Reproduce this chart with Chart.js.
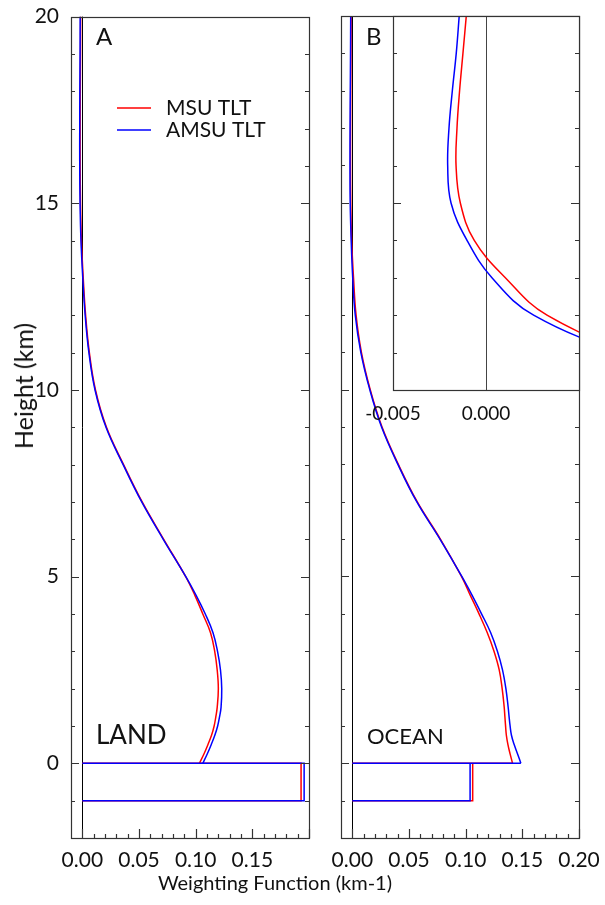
<!DOCTYPE html>
<html>
<head>
<meta charset="utf-8">
<script src="https://cdn.jsdelivr.net/npm/chart.js@4.4.0/dist/chart.umd.min.js"></script>
<style>
body { margin: 0; background: #fff; width: 605px; height: 905px; position: relative; overflow: hidden; font-family: Lato, sans-serif; }
canvas { position: absolute; top: 0; }
#cA { left: 0; }
#cB { left: 320px; }
#cI { left: 343px; }
.ttl { position: absolute; color: #111; white-space: nowrap; transform: translate(-50%, -50%); }
#xt { left: 275px; top: 882px; font-size: 20px; }
#yt { left: 23px; top: 386px; font-size: 25px; transform: translate(-50%, -50%) rotate(-90deg); }
</style>
</head>
<body>
<canvas id="cA" width="320" height="905"></canvas>
<canvas id="cB" width="285" height="905"></canvas>
<canvas id="cI" width="262" height="420"></canvas>
<div class="ttl" id="xt">Weighting Function (km-1)</div>
<div class="ttl" id="yt">Height (km)</div>
<script>
const seriesNames = ['MSU TLT', 'AMSU TLT']
const seriesColors = ['#ff0000', '#0000ff']

// height levels (km) and weighting function values (km-1)
const heightKm = [20, 19, 18, 17, 16, 15, 14, 13, 12, 11, 10, 9, 8, 7, 6, 5,
  4.5, 4, 3.5, 3, 2.5, 2, 1.5, 1.25, 1, 0.75, 0.5, 0.25, 0]
const landMsu = [-0.0015, -0.0016, -0.0018, -0.0019, -0.0019, -0.0016, -0.0008, 0.0008, 0.0029, 0.0062, 0.0116, 0.0213, 0.0364, 0.0528, 0.0718, 0.0912,
  0.0993, 0.1063, 0.1131, 0.1168, 0.1190, 0.1200, 0.1190, 0.1178, 0.1163, 0.1140, 0.1108, 0.1073, 0.1033]
const landAmsu = [-0.0019, -0.0020, -0.0022, -0.0023, -0.0023, -0.0020, -0.0012, 0.0004, 0.0025, 0.0058, 0.0112, 0.0209, 0.0360, 0.0524, 0.0714, 0.0913,
  0.1004, 0.1085, 0.1153, 0.1193, 0.1219, 0.1230, 0.1224, 0.1211, 0.1194, 0.1169, 0.1137, 0.1102, 0.1063]
const oceanMsu = [-0.00106, -0.00124, -0.00142, -0.00156, -0.00161, -0.00138, -0.00063, 0.00104, 0.00328, 0.0080, 0.0158, 0.0262, 0.0406, 0.0572, 0.0777, 0.0963,
  0.1040, 0.1118, 0.1190, 0.1250, 0.1296, 0.1322, 0.1340, 0.1346, 0.1352, 0.1359, 0.1373, 0.1392, 0.1414]
const oceanAmsu = [-0.00144, -0.0016, -0.00181, -0.00199, -0.00206, -0.00188, -0.00102, 0.00032, 0.00256, 0.0075, 0.0154, 0.0258, 0.0402, 0.0568, 0.0773, 0.0966,
  0.1056, 0.1140, 0.1220, 0.1280, 0.1325, 0.1355, 0.1375, 0.1383, 0.1392, 0.1404, 0.1428, 0.1458, 0.1487]
// surface layer weight (drawn between 0 and -1 km), [MSU, AMSU]
const landSurface = [0.193, 0.1957]
const oceanSurface = [0.1062, 0.1039]

const heightTicks = [0, 5, 10, 15, 20]
const landWeightTicks = [0, 0.05, 0.10, 0.15]
const oceanWeightTicks = [0, 0.05, 0.10, 0.15, 0.20]
const insetTicks = [-0.005, 0]

Chart.defaults.font.family = 'Lato'
Chart.defaults.color = '#111'

function panelSets(msu, amsu, surf) {
  const prof = [msu, amsu]
  const sets = []
  // AMSU first so it ends up on top
  for (const i of [1, 0]) {
    const w = prof[i]
    const w0 = w[w.length - 1]
    sets.push({
      label: seriesNames[i],
      data: heightKm.map((h, k) => ({ x: w[k], y: h })),
      borderColor: seriesColors[i], borderWidth: 1.5, tension: 0.4, pointRadius: 0, showLine: true
    })
    sets.push({
      label: seriesNames[i] + ' surface',
      data: [{ x: w0, y: 0 }, { x: 0, y: 0 }, { x: surf[i], y: 0 }, { x: surf[i], y: -1 }, { x: 0, y: -1 }],
      borderColor: seriesColors[i], borderWidth: 1.5, tension: 0, pointRadius: 0, showLine: true
    })
  }
  return sets
}

// frame, inward tick marks, zero line, labels
const frame = {
  id: 'frame',
  beforeDraw(chart, args, o) {
    const { ctx, chartArea: a } = chart
    if (o.fill) {
      ctx.save()
      ctx.fillStyle = '#fff'
      ctx.fillRect(a.left, a.top, a.right - a.left, a.bottom - a.top)
      ctx.restore()
    }
  },
  beforeDatasetsDraw(chart, args, o) {
    const { ctx, chartArea: a, scales: { x } } = chart
    const zx = Math.round(x.getPixelForValue(0)) + 0.5
    ctx.save()
    ctx.strokeStyle = o.zeroColor || '#000'
    ctx.lineWidth = 1
    ctx.beginPath()
    ctx.moveTo(zx, a.top)
    ctx.lineTo(zx, a.bottom)
    ctx.stroke()
    ctx.restore()
  },
  afterDraw(chart, args, o) {
    const { ctx, chartArea: a, scales: { x, y } } = chart
    ctx.save()
    ctx.strokeStyle = '#333'
    ctx.lineWidth = 1.2
    ctx.strokeRect(Math.round(a.left) + 0.5, Math.round(a.top) + 0.5, Math.round(a.right - a.left), Math.round(a.bottom - a.top))
    ctx.beginPath()
    for (let v = o.yFrom; v <= 20; v++) {
      const py = Math.round(y.getPixelForValue(v)) + 0.5
      const len = v % 5 === 0 ? 8 : 4
      ctx.moveTo(a.left, py); ctx.lineTo(a.left + len, py)
      ctx.moveTo(a.right, py); ctx.lineTo(a.right - len, py)
    }
    if (o.xTicks) {
      for (let k = 0; k <= 20; k++) {
        const px = Math.round(x.getPixelForValue(k / 100)) + 0.5
        const len = k % 5 === 0 ? 9 : 4
        ctx.moveTo(px, a.bottom); ctx.lineTo(px, a.bottom - len)
      }
    }
    ctx.stroke()
    ctx.fillStyle = '#111'
    ctx.textBaseline = 'middle'
    ctx.textAlign = 'left'
    for (const t of (o.texts || [])) {
      ctx.font = t.size + 'px Lato'
      ctx.fillText(t.text, t.x, t.y)
    }
    if (o.legend) {
      ctx.font = '21px Lato'
      seriesNames.forEach((name, i) => {
        const ly = o.legend.y + i * 22
        ctx.strokeStyle = seriesColors[i]
        ctx.lineWidth = 1.5
        ctx.beginPath()
        ctx.moveTo(o.legend.x, ly); ctx.lineTo(o.legend.x + 34, ly)
        ctx.stroke()
        ctx.fillText(name, o.legend.x + 49, ly)
      })
    }
    ctx.restore()
  }
}

function axisX(ticks, digits, fit, size, pad) {
  return {
    type: 'linear', min: -0.01, max: 0.2,
    afterBuildTicks: s => { s.ticks = ticks.map(v => ({ value: v })) },
    afterFit: s => { s.height = fit },
    grid: { display: false }, border: { display: false },
    ticks: { font: { size: size }, padding: pad, maxRotation: 0, autoSkip: false, callback: v => v.toFixed(digits) }
  }
}

function axisY(width, labels) {
  return {
    type: 'linear', min: -2, max: 20,
    afterBuildTicks: s => { s.ticks = heightTicks.map(v => ({ value: v })) },
    afterFit: s => { s.width = width },
    grid: { display: false }, border: { display: false },
    ticks: { display: labels, font: { size: 21 }, padding: 4 }
  }
}

const common = { responsive: false, animation: false, events: [] }

new Chart(document.getElementById('cA'), {
  type: 'scatter',
  data: { datasets: panelSets(landMsu, landAmsu, landSurface) },
  options: {
    ...common,
    layout: { padding: { left: 0, right: 11, top: 16, bottom: 0 } },
    plugins: {
      legend: { display: false }, tooltip: { enabled: false },
      frame: {
        yFrom: -2, xTicks: true,
        texts: [{ text: 'A', x: 96, y: 37, size: 24 }, { text: 'LAND', x: 96, y: 736, size: 26 }],
        legend: { x: 117, y: 108 }
      }
    },
    scales: { x: axisX(landWeightTicks, 2, 67, 21, 2), y: axisY(71, true) }
  },
  plugins: [frame]
})

new Chart(document.getElementById('cB'), {
  type: 'scatter',
  data: { datasets: panelSets(oceanMsu, oceanAmsu, oceanSurface) },
  options: {
    ...common,
    layout: { padding: { left: 0, right: 26, top: 16, bottom: 0 } },
    plugins: {
      legend: { display: false }, tooltip: { enabled: false },
      frame: {
        yFrom: -2, xTicks: true,
        texts: [{ text: 'B', x: 46, y: 37, size: 24 }, { text: 'OCEAN', x: 47, y: 737, size: 22 }]
      }
    },
    scales: { x: axisX(oceanWeightTicks, 2, 67, 21, 2), y: axisY(21, false) }
  },
  plugins: [frame]
})

// inset: zoom on upper part of the ocean profiles
const inset = panelSets(oceanMsu, oceanAmsu, oceanSurface).filter((d, i) => i % 2 === 0)
new Chart(document.getElementById('cI'), {
  type: 'scatter',
  data: { datasets: inset },
  options: {
    ...common,
    layout: { padding: { left: 50, right: 26, top: 16, bottom: 0 } },
    plugins: {
      legend: { display: false }, tooltip: { enabled: false },
      frame: { fill: true, yFrom: 10, xTicks: false, zeroColor: '#444' }
    },
    scales: {
      x: { ...axisX(insetTicks, 3, 30, 19, 4), min: -0.005, max: 0.005 },
      y: { type: 'linear', min: 10, max: 20, display: false }
    }
  },
  plugins: [frame]
})
</script>
</body>
</html>
